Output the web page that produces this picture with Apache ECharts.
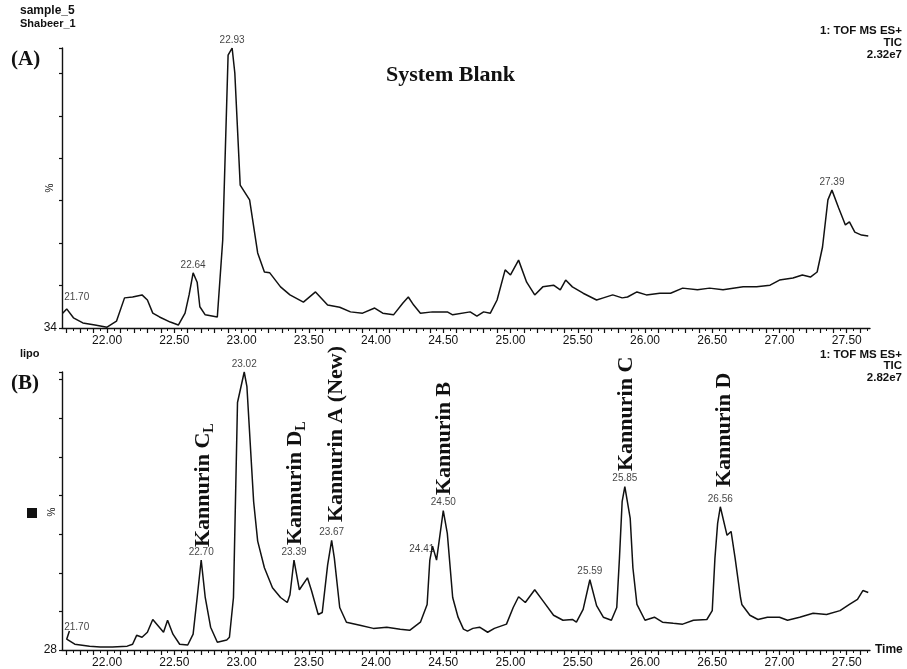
<!DOCTYPE html>
<html>
<head>
<meta charset="utf-8">
<script src="https://cdn.jsdelivr.net/npm/echarts@6/dist/echarts.min.js"></script>
<style>
html, body { margin: 0; padding: 0; background: #fff; }
#chart { width: 907px; height: 669px; }
</style>
</head>
<body>
<div id="chart"></div>
<script>
// time axis (min) shared by both traces
var timeMin = 21.665
var timeMax = 27.673
var timeLabels = ['22.00', '22.50', '23.00', '23.50', '24.00', '24.50', '25.00', '25.50', '26.00', '26.50', '27.00', '27.50']

// (A) system blank TIC, [time, %]
var blankTrace = [
  [21.67, 37.5], [21.70, 38.5], [21.75, 36.4], [21.82, 35.2], [21.91, 34.7], [22.00, 34.2],
  [22.07, 35.6], [22.13, 41.1], [22.19, 41.3], [22.26, 41.8], [22.30, 40.6], [22.34, 37.5],
  [22.39, 36.6], [22.47, 35.4], [22.53, 34.7], [22.58, 37.5], [22.61, 41.8], [22.64, 47.0],
  [22.67, 44.8], [22.69, 39.0], [22.73, 37.1], [22.82, 36.6], [22.86, 54.7], [22.90, 98.3],
  [22.93, 100], [22.95, 94.1], [22.99, 67.7], [23.06, 64.2], [23.12, 51.7], [23.17, 47.2],
  [23.21, 47.0], [23.29, 43.7], [23.36, 41.8], [23.46, 40.1], [23.55, 42.5], [23.64, 39.4],
  [23.73, 38.9], [23.81, 37.8], [23.90, 37.5], [23.99, 38.7], [24.05, 37.5], [24.13, 37.1],
  [24.20, 39.9], [24.24, 41.3], [24.28, 39.4], [24.33, 37.5], [24.42, 37.8], [24.53, 37.8],
  [24.57, 37.1], [24.70, 37.8], [24.75, 36.8], [24.80, 37.8], [24.85, 37.5], [24.90, 40.6],
  [24.96, 47.7], [25.00, 46.5], [25.06, 50.0], [25.12, 44.8], [25.18, 41.8], [25.24, 43.7],
  [25.32, 44.1], [25.37, 43.0], [25.41, 45.3], [25.46, 43.7], [25.54, 42.2], [25.64, 40.6],
  [25.69, 41.1], [25.76, 41.8], [25.83, 41.1], [25.87, 41.3], [25.94, 42.5], [26.01, 41.8],
  [26.11, 42.2], [26.19, 42.2], [26.28, 43.4], [26.39, 43.0], [26.48, 43.4], [26.58, 43.0],
  [26.73, 43.7], [26.83, 43.7], [26.93, 44.1], [27.00, 45.3], [27.10, 45.8], [27.17, 46.5],
  [27.23, 46.0], [27.28, 47.2], [27.32, 53.1], [27.36, 64.2], [27.39, 66.5], [27.44, 62.3],
  [27.49, 58.3], [27.52, 59.0], [27.56, 56.6], [27.61, 55.9], [27.66, 55.7]
]
var blankPeaks = [21.70, 22.64, 22.93, 27.39]

// (B) lipo extract TIC, [time, %]
var lipoTrace = [
  [21.72, 32.9], [21.70, 30.8], [21.76, 29.5], [21.87, 29.0], [21.95, 28.8], [22.04, 28.8],
  [22.15, 29.0], [22.19, 29.5], [22.22, 31.8], [22.26, 31.3], [22.30, 32.6], [22.34, 35.9],
  [22.42, 32.6], [22.45, 35.7], [22.49, 32.1], [22.54, 29.5], [22.60, 29.3], [22.64, 32.1],
  [22.67, 41.6], [22.70, 51.3], [22.73, 41.6], [22.77, 33.9], [22.82, 30.0], [22.89, 30.6],
  [22.91, 31.3], [22.94, 41.6], [22.97, 92.1], [23.02, 100], [23.04, 96.2], [23.09, 66.4],
  [23.12, 56.2], [23.17, 49.3], [23.23, 44.1], [23.29, 41.6], [23.34, 40.3], [23.36, 42.3],
  [23.39, 51.3], [23.43, 43.6], [23.49, 46.7], [23.52, 43.4], [23.57, 37.2], [23.60, 37.7],
  [23.64, 50.0], [23.67, 56.4], [23.69, 51.8], [23.73, 39.0], [23.78, 35.2], [23.88, 34.4],
  [23.98, 33.6], [24.08, 33.9], [24.18, 33.4], [24.25, 33.1], [24.33, 35.2], [24.38, 39.8],
  [24.40, 51.3], [24.42, 54.9], [24.45, 51.3], [24.50, 64.1], [24.53, 58.2], [24.57, 41.6],
  [24.61, 36.5], [24.65, 33.4], [24.68, 32.9], [24.72, 33.6], [24.77, 33.9], [24.83, 32.6],
  [24.88, 33.6], [24.97, 34.7], [25.02, 39.0], [25.06, 41.8], [25.11, 40.3], [25.18, 43.6],
  [25.24, 40.8], [25.32, 37.0], [25.39, 35.7], [25.46, 35.9], [25.49, 35.2], [25.54, 38.5],
  [25.59, 46.2], [25.64, 39.5], [25.69, 36.5], [25.75, 35.7], [25.79, 39.0], [25.81, 51.8],
  [25.83, 66.4], [25.85, 70.3], [25.89, 62.1], [25.91, 49.3], [25.94, 39.8], [26.00, 35.7],
  [26.07, 36.5], [26.13, 35.2], [26.21, 34.9], [26.28, 34.7], [26.36, 35.7], [26.46, 35.9],
  [26.50, 38.2], [26.52, 51.8], [26.54, 60.8], [26.56, 65.1], [26.61, 57.7], [26.64, 58.7],
  [26.67, 51.8], [26.71, 41.6], [26.72, 39.8], [26.78, 37.0], [26.84, 35.9], [26.91, 36.5],
  [27.00, 36.5], [27.06, 35.7], [27.15, 36.5], [27.25, 37.5], [27.35, 37.2], [27.45, 38.2],
  [27.52, 39.8], [27.58, 41.1], [27.62, 43.4], [27.66, 42.9]
]
var lipoPeaks = [21.70, 22.70, 23.02, 23.39, 23.67, 24.41, 24.50, 25.59, 25.85, 26.56]

var sans = 'Liberation Sans'
var serif = 'Liberation Serif'
var ink = '#111'

// tick positions every 0.1 and 0.05 min
var tenths = [], twentieths = []
for (var i = 217; i <= 276; i++) tenths.push(i / 10)
for (var j = 434; j <= 553; j++) twentieths.push(j / 20)

function peakPoints(trace, times) {
  return times.map(function(t) {
    var best = trace[0]
    trace.forEach(function(p) {
      if (Math.abs(p[0] - t) < Math.abs(best[0] - t)) best = p
    })
    return { value: [best[0], best[1]], name: t.toFixed(2) }
  })
}

function xAxisFor(grid, name) {
  return {
    type: 'value',
    gridIndex: grid,
    position: 'bottom',
    min: timeMin,
    max: timeMax,
    name: name,
    nameLocation: 'end',
    nameGap: 5,
    nameTextStyle: { color: ink, fontFamily: sans, fontSize: 12, fontWeight: 'bold', verticalAlign: 'middle' },
    axisLine: { onZero: false, lineStyle: { color: ink, width: 1.4 } },
    axisTick: { length: 5, customValues: tenths, lineStyle: { color: ink, width: 1.2 } },
    splitLine: { show: false },
    axisLabel: {
      margin: 7,
      color: ink,
      fontFamily: sans,
      fontSize: 12,
      customValues: timeLabels.map(Number),
      formatter: function(v) { return v.toFixed(2) }
    }
  }
}

// second axis on the same grid carrying the small ticks
function minorAxisFor(grid) {
  return {
    type: 'value',
    gridIndex: grid,
    position: 'bottom',
    offset: 0,
    min: timeMin,
    max: timeMax,
    axisLine: { show: false, onZero: false },
    axisTick: { length: 3, customValues: twentieths, lineStyle: { color: ink, width: 1 } },
    axisLabel: { show: false },
    splitLine: { show: false }
  }
}

function yAxisFor(grid, min) {
  return {
    type: 'value',
    gridIndex: grid,
    min: min,
    max: 100,
    interval: 10,
    axisLine: { show: true, lineStyle: { color: ink, width: 1.4 } },
    axisTick: { show: true, length: 3, lineStyle: { color: ink, width: 1.2 } },
    splitLine: { show: false },
    axisLabel: {
      margin: 5,
      color: ink,
      fontFamily: sans,
      fontSize: 12,
      formatter: function(v) { return v === min ? String(min) : '' }
    }
  }
}

function traceSeries(idx, data) {
  return {
    type: 'line',
    xAxisIndex: idx,
    yAxisIndex: idx,
    data: data,
    showSymbol: false,
    silent: true,
    lineStyle: { color: ink, width: 1.5 }
  }
}

function labelSeries(idx, points) {
  return {
    type: 'scatter',
    xAxisIndex: idx,
    yAxisIndex: idx,
    data: points,
    symbolSize: 0,
    silent: true,
    label: {
      show: true,
      position: 'top',
      distance: 3,
      color: ink,
      fontFamily: sans,
      fontSize: 10,
      formatter: function(p) { return p.name }
    },
    labelLayout: function(p) {
      var n = points[p.dataIndex].name
      if (n === '21.70') return { dx: 10, dy: -4 }
      if (n === '24.41') return { dx: -8, dy: -3 }
      return {}
    }
  }
}

// vertical compound labels in panel B
function kannurin(x, y, main, sub) {
  return {
    type: 'text',
    x: x,
    y: y,
    rotation: Math.PI / 2,
    style: {
      text: sub ? '{m|' + main + '}{s|' + sub + '}' : '{m|' + main + '}',
      align: 'left',
      verticalAlign: 'middle',
      fill: ink,
      rich: {
        m: { fontFamily: serif, fontWeight: 'bold', fontSize: 22, lineHeight: 26, fill: ink },
        s: { fontFamily: serif, fontWeight: 'bold', fontSize: 14, verticalAlign: 'bottom', fill: ink }
      }
    }
  }
}

function txt(x, y, text, size, opts) {
  opts = opts || {}
  return {
    type: 'text',
    x: x,
    y: y,
    rotation: opts.rotation || 0,
    style: {
      text: text,
      fill: ink,
      fontFamily: opts.family || sans,
      fontSize: size,
      fontWeight: opts.weight || 'normal',
      align: opts.align || 'left',
      verticalAlign: 'middle'
    }
  }
}

var chart = echarts.init(document.getElementById('chart'))
chart.setOption({
  animation: false,
  backgroundColor: '#fff',
  grid: [
    { left: 62, top: 48, width: 808, height: 280 },
    { left: 62, top: 372, width: 808, height: 281 }
  ],
  xAxis: [xAxisFor(0, ''), xAxisFor(1, 'Time'), minorAxisFor(0), minorAxisFor(1)],
  yAxis: [yAxisFor(0, 34), yAxisFor(1, 28)],
  series: [
    traceSeries(0, blankTrace),
    traceSeries(1, lipoTrace),
    labelSeries(0, peakPoints(blankTrace, blankPeaks)),
    labelSeries(1, peakPoints(lipoTrace, lipoPeaks))
  ],
  graphic: [
    txt(20, 11, 'sample_5', 12, { weight: 'bold' }),
    txt(20, 24, 'Shabeer_1', 11, { weight: 'bold' }),
    txt(11, 60, '(A)', 21, { family: serif, weight: 'bold' }),
    txt(386, 75, 'System Blank', 22, { family: serif, weight: 'bold' }),
    txt(902, 31, '1: TOF MS ES+', 11.5, { weight: 'bold', align: 'right' }),
    txt(902, 43, 'TIC', 11.5, { weight: 'bold', align: 'right' }),
    txt(902, 55, '2.32e7', 11.5, { weight: 'bold', align: 'right' }),
    txt(50, 188, '%', 10, { align: 'center', rotation: Math.PI / 2 }),
    txt(20, 354, 'lipo', 11, { weight: 'bold' }),
    txt(11, 384, '(B)', 21, { family: serif, weight: 'bold' }),
    txt(902, 355, '1: TOF MS ES+', 11.5, { weight: 'bold', align: 'right' }),
    txt(902, 366, 'TIC', 11.5, { weight: 'bold', align: 'right' }),
    txt(902, 378, '2.82e7', 11.5, { weight: 'bold', align: 'right' }),
    txt(52, 512, '%', 10, { align: 'center', rotation: Math.PI / 2 }),
    { type: 'rect', shape: { x: 27, y: 508, width: 10, height: 10 }, style: { fill: ink } },
    kannurin(203, 547, 'Kannurin C', 'L'),
    kannurin(295, 545, 'Kannurin D', 'L'),
    kannurin(336, 522, 'Kannurin A (New)'),
    kannurin(444, 495, 'Kannurin B'),
    kannurin(626, 471, 'Kannurin C'),
    kannurin(724, 487, 'Kannurin D')
  ]
})
</script>
</body>
</html>
